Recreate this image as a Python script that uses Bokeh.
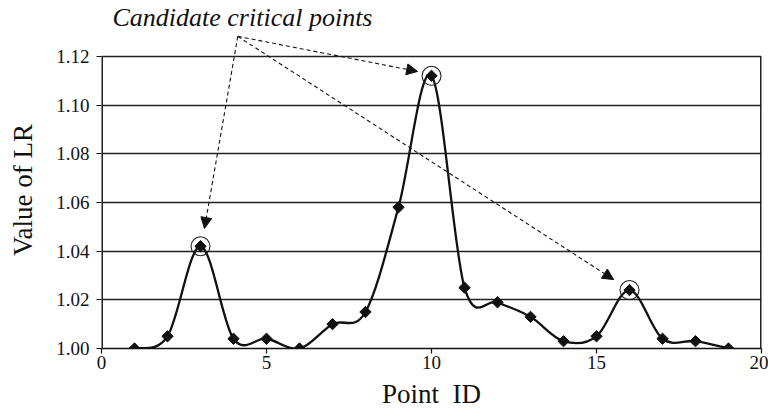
import math
from bokeh.plotting import figure
from bokeh.models import Arrow, NormalHead, FixedTicker, CustomJSTickFormatter
from bokeh.embed import file_html
from bokeh.resources import INLINE

# ---- data ----
point_id = list(range(1, 20))
lr_value = [1.000, 1.005, 1.042, 1.004, 1.004, 1.000, 1.010, 1.015, 1.058, 1.112,
            1.025, 1.019, 1.013, 1.003, 1.005, 1.024, 1.004, 1.003, 1.000]
critical_ids = [3, 10, 16]
x_ticks = [0, 5, 10, 15, 20]
y_ticks = [1.00, 1.02, 1.04, 1.06, 1.08, 1.10, 1.12]

title_text = "Candidate critical points"
x_label = "Point\u00a0 ID"
y_label = "Value of LR"

# annotation anchor (start of all arrows) and arrow tips, in data units
arrow_start = (4.13, 1.1282)
arrow_tips = [(3.12, 1.0493), (9.58, 1.1138), (15.52, 1.0283)]

FONT = "Liberation Serif"
INK = "#111111"

X_MIN, X_MAX = 0, 20
Y_MIN, Y_BOX_TOP, Y_MAX = 1.00, 1.12, 1.1302

p = figure(width=768, height=416, x_range=(X_MIN, X_MAX), y_range=(Y_MIN, Y_MAX),
           output_backend="svg", toolbar_location=None,
           min_border_left=101, min_border_right=7, min_border_top=30, min_border_bottom=68)
p.background_fill_color = "white"
p.border_fill_color = "white"
p.outline_line_color = None

# title (italic annotation text above the chart)
p.title.text = title_text
p.title.text_font = FONT
p.title.text_font_style = "italic"
p.title.text_font_size = "26px"
p.title.text_color = INK
p.title.align = "left"
p.title.offset = 11
p.title.standoff = 0

# axes
p.xaxis.ticker = FixedTicker(ticks=x_ticks)
p.yaxis.ticker = FixedTicker(ticks=y_ticks)
p.yaxis.formatter = CustomJSTickFormatter(code="return tick.toFixed(2);")
for ax in (p.xaxis[0], p.yaxis[0]):
    ax.axis_line_color = INK
    ax.axis_line_width = 1.5
    ax.major_tick_line_color = INK
    ax.major_tick_line_width = 1.2
    ax.major_tick_out = 5
    ax.major_tick_in = 0
    ax.minor_tick_line_color = None
    ax.major_label_text_font = FONT
    ax.major_label_text_font_size = "19px"
    ax.major_label_text_color = INK
    ax.axis_label_text_font = FONT
    ax.axis_label_text_font_size = "27px"
    ax.axis_label_text_font_style = "normal"
    ax.axis_label_text_color = INK
p.xaxis.major_label_standoff = 2
p.yaxis.major_label_standoff = 7
p.yaxis.axis_line_color = None
p.xaxis.axis_label = x_label
p.yaxis.axis_label = y_label
p.xaxis.axis_label_standoff = 7
p.yaxis.axis_label_standoff = 15

p.xgrid.grid_line_color = None
p.ygrid.grid_line_color = "#222222"
p.ygrid.grid_line_width = 1.5

# chart box: left and right borders between 1.00 and 1.12
p.segment(x0=[X_MIN, X_MAX], y0=[Y_MIN, Y_MIN], x1=[X_MIN, X_MAX], y1=[Y_BOX_TOP, Y_BOX_TOP],
          line_color="#222222", line_width=3)

# smooth curve (Catmull-Rom style Bezier segments through the data points)
n = len(point_id)
x0, y0, x1, y1, cx0, cy0, cx1, cy1 = [], [], [], [], [], [], [], []
for i in range(n - 1):
    a = max(i - 1, 0)
    d = min(i + 2, n - 1)
    x0.append(point_id[i]); y0.append(lr_value[i])
    x1.append(point_id[i + 1]); y1.append(lr_value[i + 1])
    cx0.append(point_id[i] + (point_id[i + 1] - point_id[a]) / 6)
    cy0.append(lr_value[i] + (lr_value[i + 1] - lr_value[a]) / 6)
    cx1.append(point_id[i + 1] - (point_id[d] - point_id[i]) / 6)
    cy1.append(lr_value[i + 1] - (lr_value[d] - lr_value[i]) / 6)
p.bezier(x0=x0, y0=y0, x1=x1, y1=y1, cx0=cx0, cy0=cy0, cx1=cx1, cy1=cy1,
         line_color=INK, line_width=2.3)

# markers
p.scatter(point_id, lr_value, marker="square", angle=math.pi / 4, size=8,
          fill_color=INK, line_color=INK)

# circles around critical points
crit_y = [lr_value[point_id.index(c)] for c in critical_ids]
p.scatter(critical_ids, crit_y, marker="circle", size=19, fill_color=None,
          line_color="#222222", line_width=1.1)

# arrows
for tx, ty in arrow_tips:
    p.add_layout(Arrow(x_start=arrow_start[0], y_start=arrow_start[1], x_end=tx, y_end=ty,
                       line_color=INK, line_width=1.1, line_dash="4 3",
                       end=NormalHead(size=11, fill_color=INK, line_color=INK,
                                      line_width=1)))

open("out.html", "w").write(file_html(p, INLINE))
